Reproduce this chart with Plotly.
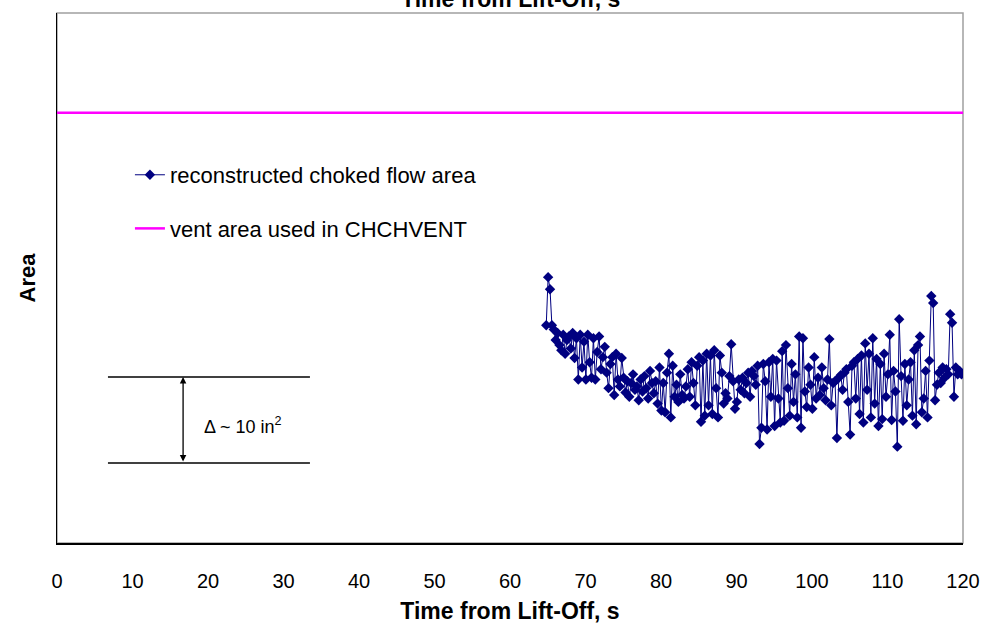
import plotly.graph_objects as go

# time sampling of the reconstructed series
t_start = 64.8
t_step = 0.25

# reconstructed choked flow area, arbitrary in^2 scale
area_values = [
    25.3, 30.9, 29.5, 25.3, 24.8, 23.6, 24.4, 23.0, 22.4, 24.2, 22.0, 23.6, 24.0, 22.6, 24.4, 21.5, 23.8, 19.0, 24.2, 20.4, 23.4,
    19.0, 24.2, 21.0, 19.2, 23.8, 19.0, 22.2, 24.0, 20.2, 21.6, 22.8, 19.8, 18.0, 20.8, 21.6, 17.2, 22.0, 19.0, 18.2, 21.5,
    19.2, 17.5, 18.8, 17.0, 18.6, 19.6, 17.8, 18.2, 16.6, 19.0, 17.6, 19.4, 18.0, 16.8, 20.0, 18.6, 17.4, 18.8, 16.2, 20.4,
    15.4, 18.6, 15.2, 19.8, 22.0, 14.6, 20.6, 17.0, 18.4, 16.4, 19.6, 17.2, 16.8, 18.2, 20.2, 17.0, 21.0, 18.6, 16.0, 20.6,
    21.6, 14.1, 21.2, 14.8, 22.0, 16.0, 21.8, 15.0, 22.4, 18.0, 14.6, 21.8, 19.8, 16.2, 17.4, 16.8, 19.4, 23.1, 18.8, 15.6,
    16.4, 19.0, 17.8, 19.2, 17.4, 18.6, 19.8, 17.0, 20.0, 19.4, 18.4, 20.6, 11.5, 13.4, 20.8, 18.8, 13.2, 21.0, 17.0, 21.4,
    13.6, 21.2, 16.8, 14.0, 22.3, 14.2, 23.0, 18.0, 14.8, 20.8, 16.4, 19.6, 14.6, 24.0, 13.4, 23.8, 17.6, 15.8, 20.4, 18.4,
    15.6, 21.6, 16.8, 19.2, 17.2, 20.4, 18.0, 16.6, 19.0, 23.7, 16.0, 18.6, 18.8, 12.2, 19.2, 19.5, 17.8, 19.8, 20.2, 16.4,
    12.6, 20.6, 21.0, 16.8, 21.4, 15.0, 21.8, 14.0, 23.2, 17.8, 22.0, 14.6, 23.8, 16.2, 21.4, 13.6, 20.8, 14.4, 22.0, 17.0,
    19.6, 24.2, 14.3, 20.0, 17.6, 11.2, 26.0, 19.4, 14.2, 20.8, 16.0, 19.0, 21.0, 14.8, 22.4, 13.8, 23.0, 24.0, 15.2, 16.8,
    20.0, 14.6, 21.2, 28.7, 27.9, 16.6, 18.4, 19.8, 18.6, 20.4, 19.2, 20.2, 19.6, 26.6, 25.6, 17.0, 20.4, 19.6, 20.0, 19.6,
]
times = [round(t_start + t_step * i, 2) for i in range(len(area_values))]

# vent area used in CHCHVENT (constant)
vent_times = [0, 120]
vent_area = [50.0, 50.0]

# delta reference band
delta_low = 9.3
delta_high = 19.3
delta_x = [6.75, 33.5]
arrow_x = 16.7

x_ticks = list(range(0, 121, 10))

FONT = "Liberation Sans, Arial, sans-serif"

fig = go.Figure()
fig.add_trace(go.Scatter(
    x=times, y=area_values, mode="lines+markers",
    name="reconstructed choked flow area",
    line=dict(color="#000080", width=1),
    marker=dict(symbol="diamond", size=8, color="#000080"),
    legendgroup="a",
))
fig.add_trace(go.Scatter(
    x=vent_times, y=vent_area, mode="lines",
    name="vent area used in CHCHVENT",
    line=dict(color="#FF00FF", width=2.5),
    legendgroup="b",
))

# delta band lines
for yv in (delta_low, delta_high):
    fig.add_shape(type="line", x0=delta_x[0], x1=delta_x[1], y0=yv, y1=yv,
                  xref="x", yref="y", line=dict(color="black", width=1.5))
# double-headed arrow
fig.add_annotation(x=arrow_x, y=delta_high, ax=arrow_x, ay=delta_low,
                   xref="x", yref="y", axref="x", ayref="y",
                   showarrow=True, arrowhead=2, arrowside="end+start",
                   arrowsize=1, arrowwidth=1.3, arrowcolor="black", text="")
fig.add_annotation(x=24.6, y=13.7, xref="x", yref="y", showarrow=False,
                   text="Δ ~ 10 in<sup>2</sup>",
                   font=dict(family=FONT, size=18, color="black"))

# top cropped title
fig.add_annotation(x=0.5, y=1.026, xref="paper", yref="paper", showarrow=False,
                   yanchor="middle", text="<b>Time from Lift-Off, s</b>",
                   font=dict(family=FONT, size=23, color="black"))

# plot area frame (grey)
fig.add_shape(type="rect", xref="paper", yref="paper", x0=0, x1=1, y0=0, y1=1,
              line=dict(color="#A0A0A0", width=1.5), layer="below")

fig.update_layout(
    width=981, height=625,
    margin=dict(l=57, r=18, t=13, b=82),
    paper_bgcolor="white", plot_bgcolor="white",
    font=dict(family=FONT, color="black"),
    showlegend=True,
    legend=dict(x=0.0805, y=0.734, xanchor="left", yanchor="top",
                bgcolor="rgba(0,0,0,0)", font=dict(family=FONT, size=22),
                traceorder="grouped", tracegroupgap=22, itemwidth=30),
    xaxis=dict(range=[0, 120], tickvals=x_ticks, ticktext=[str(v) for v in x_ticks],
               showgrid=False, zeroline=False, showline=True, linecolor="black",
               linewidth=1.5, ticks="", ticklabelstandoff=19, automargin=False,
               tickfont=dict(family=FONT, size=20),
               title=dict(text="<b>Time from Lift-Off, s</b>", standoff=12,
                          font=dict(family=FONT, size=23))),
    yaxis=dict(range=[0, 61.6], showticklabels=False, showgrid=False, zeroline=False,
               showline=True, linecolor="black", linewidth=1, ticks="", automargin=False,
               title=dict(text="<b>Area</b>", standoff=14,
                          font=dict(family=FONT, size=22))),
)

fig.write_html("out.html")
